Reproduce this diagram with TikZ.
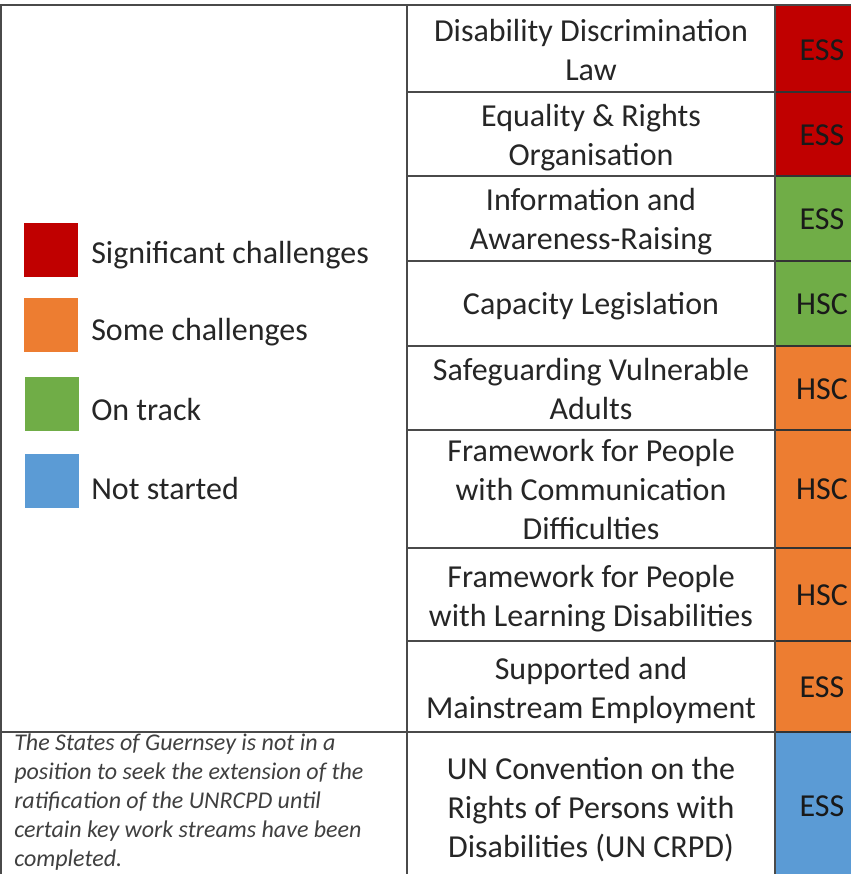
\documentclass[tikz,border=0pt]{standalone}
\usepackage{fontspec}
\setmainfont{Carlito}
\definecolor{sigred}{HTML}{C00000}
\definecolor{someor}{HTML}{ED7D31}
\definecolor{ontrack}{HTML}{70AD47}
\definecolor{notstart}{HTML}{5B9BD5}
\definecolor{txt}{HTML}{262626}
\definecolor{gridc}{HTML}{4A4A4A}
\begin{document}
\begin{tikzpicture}[x=0.75pt,y=-0.75pt,
  gridline/.style={draw=gridc,line width=1.1pt},
  cellsep/.style={draw=black!80,line width=0.8pt},
  celltext/.style={text=txt,align=center,inner sep=0pt,font=\fontsize{24}{29.25}\selectfont},
  codetext/.style={text=black!90,inner sep=0pt,font=\fontsize{24}{29.25}\selectfont},
  legsq/.style={rectangle,minimum width=40.5pt,minimum height=40.5pt,inner sep=0pt},
  legtext/.style={text=txt,anchor=west,inner sep=0pt,font=\fontsize{24}{29.25}\selectfont},
  notetext/.style={text=black!75,anchor=west,align=left,inner sep=0pt,font=\fontsize{18}{21.6}\selectfont\itshape}]
\useasboundingbox (0,0) rectangle (851,874);
\clip (0,0) rectangle (851,874);
\fill[white] (0,0) rectangle (851,874);
% coloured status cells
\fill[sigred] (775,5) rectangle (851,176);
\fill[ontrack] (775,176) rectangle (851,346);
\fill[someor] (775,346) rectangle (851,732);
\fill[notstart] (775,732) rectangle (851,880);
\foreach \yy in {92,176,261,346,430,548,641,732}{\draw[cellsep] (775,\yy) -- (851,\yy);}
% grid
\draw[gridline] (0,5) -- (851,5);
\draw[gridline] (1,5) -- (1,880);
\draw[gridline] (407,5) -- (407,880);
\draw[gridline] (775,5) -- (775,880);
\draw[gridline] (0,732) -- (407,732);
\foreach \yy in {92,176,261,346,430,548,641,732}{\draw[gridline] (407,\yy) -- (775,\yy);}
% middle column
\node[celltext] (t1) at (591,50) {Disability Discrimination\\Law};
\node[celltext] (t2) at (591,138) {Equality \& Rights\\Organisation};
\node[celltext] (t3) at (591,222) {Information and\\Awareness-Raising};
\node[celltext] (t4) at (591,306) {Capacity Legislation};
\node[celltext] (t5) at (591,389) {Safeguarding Vulnerable\\Adults};
\node[celltext] (t6) at (591,490) {Framework for People\\with Communication\\Difficulties};
\node[celltext] (t7) at (591,599) {Framework for People\\with Learning Disabilities};
\node[celltext] (t8) at (591,690) {Supported and\\Mainstream Employment};
\node[celltext] (t9) at (591,810) {UN Convention on the\\Rights of Persons with\\Disabilities (UN CRPD)};
% codes
\node[codetext] (c1) at (822,50) {ESS};
\node[codetext] (c2) at (822,135) {ESS};
\node[codetext] (c3) at (822,219) {ESS};
\node[codetext] (c4) at (822,304) {HSC};
\node[codetext] (c5) at (822,389) {HSC};
\node[codetext] (c6) at (822,489) {HSC};
\node[codetext] (c7) at (822,595) {HSC};
\node[codetext] (c8) at (822,687) {ESS};
\node[codetext] (c9) at (822,806) {ESS};
% legend
\node[legsq,fill=sigred] (q1) at (51,250) {};
\node[legsq,fill=someor] (q2) at (51,325) {};
\node[legsq,fill=ontrack] (q3) at (52,404) {};
\node[legsq,fill=notstart] (q4) at (52,481) {};
\node[legtext] (l1) at (91,255) {Significant challenges};
\node[legtext] (l2) at (91,332) {Some challenges};
\node[legtext] (l3) at (91,410) {On track};
\node[legtext] (l4) at (91,489) {Not started};
% note
\node[notetext] (n1) at (14,802) {The States of Guernsey is not in a\\position to seek the extension of the\\ratification of the UNRCPD until\\certain key work streams have been\\completed.};
\end{tikzpicture}
\end{document}
